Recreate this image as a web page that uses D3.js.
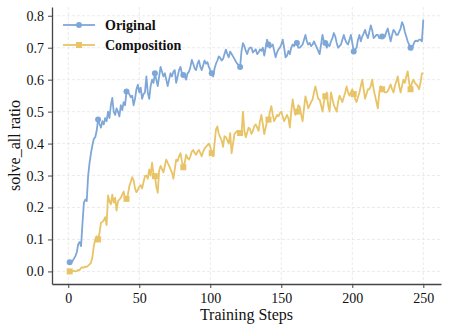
<!DOCTYPE html>
<meta charset="utf-8">
<head>
<style>
  body { margin: 0; background: #fff; }
  svg text { font-family: "Liberation Serif", "Times New Roman", serif; fill: #111; }
</style>
</head>
<body>
<script src="https://d3js.org/d3.v7.min.js"></script>
<div id="chart"></div>
<script>

// training steps 1..250
var steps = d3.range(1, 251);

var original = [
  0.029, 0.028, 0.032, 0.040, 0.048, 0.060, 0.085, 0.092, 0.079, 0.150,
  0.215, 0.225, 0.220, 0.300, 0.340, 0.370, 0.395, 0.415, 0.420, 0.440,
  0.475, 0.462, 0.450, 0.470, 0.460, 0.480, 0.470, 0.500, 0.480, 0.520,
  0.543, 0.500, 0.490, 0.510, 0.500, 0.485, 0.520, 0.505, 0.530, 0.520,
  0.563, 0.560, 0.555, 0.545, 0.550, 0.520, 0.540, 0.570, 0.584, 0.560,
  0.575, 0.540, 0.555, 0.560, 0.610, 0.560, 0.540, 0.580, 0.600, 0.590,
  0.620, 0.600, 0.580, 0.610, 0.640, 0.625, 0.610, 0.620, 0.600, 0.580,
  0.600, 0.620, 0.610, 0.625, 0.630, 0.590, 0.610, 0.630, 0.640, 0.620,
  0.615, 0.610, 0.600, 0.620, 0.625, 0.640, 0.662, 0.650, 0.635, 0.630,
  0.650, 0.660, 0.640, 0.630, 0.645, 0.660, 0.650, 0.655, 0.640, 0.630,
  0.620, 0.610, 0.635, 0.650, 0.660, 0.673, 0.668, 0.660, 0.665, 0.680,
  0.694, 0.680, 0.670, 0.688, 0.680, 0.673, 0.665, 0.657, 0.650, 0.645,
  0.640, 0.690, 0.714, 0.705, 0.690, 0.680, 0.695, 0.700, 0.700, 0.685,
  0.690, 0.695, 0.680, 0.685, 0.695, 0.690, 0.700, 0.675, 0.700, 0.725,
  0.710, 0.700, 0.705, 0.710, 0.690, 0.670, 0.685, 0.695, 0.700, 0.710,
  0.725, 0.700, 0.670, 0.675, 0.690, 0.680, 0.700, 0.710, 0.705, 0.720,
  0.715, 0.700, 0.700, 0.705, 0.710, 0.725, 0.740, 0.720, 0.710, 0.715,
  0.705, 0.710, 0.720, 0.710, 0.700, 0.690, 0.680, 0.710, 0.740, 0.720,
  0.715, 0.700, 0.710, 0.705, 0.720, 0.730, 0.746, 0.735, 0.715, 0.700,
  0.705, 0.710, 0.725, 0.740, 0.725, 0.715, 0.710, 0.725, 0.740, 0.715,
  0.688, 0.695, 0.700, 0.725, 0.740, 0.720, 0.735, 0.745, 0.756, 0.740,
  0.730, 0.750, 0.770, 0.755, 0.730, 0.735, 0.740, 0.740, 0.730, 0.730,
  0.735, 0.740, 0.735, 0.750, 0.760, 0.740, 0.720, 0.740, 0.756, 0.750,
  0.740, 0.740, 0.750, 0.760, 0.780, 0.770, 0.750, 0.735, 0.720, 0.710,
  0.700, 0.694, 0.710, 0.720, 0.722, 0.720, 0.725, 0.725, 0.720, 0.788
];

var composition = [
  0.000, 0.000, 0.000, 0.002, 0.000, 0.001, 0.005, 0.004, 0.011, 0.013,
  0.012, 0.015, 0.014, 0.018, 0.022, 0.027, 0.045, 0.079, 0.100, 0.110,
  0.100, 0.120, 0.152, 0.155, 0.160, 0.170, 0.145, 0.238, 0.220, 0.210,
  0.240, 0.215, 0.230, 0.190, 0.220, 0.225, 0.230, 0.240, 0.250, 0.227,
  0.227, 0.240, 0.267, 0.280, 0.295, 0.285, 0.260, 0.248, 0.255, 0.265,
  0.270, 0.260, 0.280, 0.298, 0.300, 0.290, 0.319, 0.300, 0.340, 0.305,
  0.298, 0.265, 0.246, 0.316, 0.330, 0.320, 0.310, 0.330, 0.350, 0.340,
  0.330, 0.320, 0.310, 0.290, 0.320, 0.350, 0.345, 0.360, 0.370, 0.345,
  0.326, 0.340, 0.365, 0.355, 0.350, 0.360, 0.375, 0.380, 0.370, 0.365,
  0.375, 0.380, 0.370, 0.360, 0.375, 0.385, 0.390, 0.395, 0.400, 0.390,
  0.370, 0.360, 0.400, 0.444, 0.454, 0.430, 0.420, 0.410, 0.390, 0.423,
  0.420, 0.410, 0.400, 0.433, 0.370, 0.400, 0.430, 0.435, 0.440, 0.430,
  0.433, 0.430, 0.500, 0.440, 0.420, 0.435, 0.450, 0.445, 0.430, 0.440,
  0.455, 0.460, 0.450, 0.440, 0.470, 0.490, 0.460, 0.430, 0.450, 0.470,
  0.475, 0.500, 0.517, 0.490, 0.470, 0.480, 0.490, 0.485, 0.495, 0.500,
  0.485, 0.470, 0.480, 0.490, 0.480, 0.450, 0.500, 0.538, 0.510, 0.490,
  0.500, 0.520, 0.515, 0.490, 0.470, 0.510, 0.548, 0.530, 0.510, 0.520,
  0.530, 0.538, 0.560, 0.579, 0.560, 0.540, 0.538, 0.520, 0.500, 0.530,
  0.548, 0.560, 0.520, 0.500, 0.560, 0.540, 0.520, 0.510, 0.500, 0.530,
  0.550, 0.540, 0.530, 0.545, 0.560, 0.579, 0.560, 0.550, 0.560, 0.570,
  0.555, 0.540, 0.530, 0.545, 0.560, 0.580, 0.600, 0.570, 0.540, 0.555,
  0.570, 0.570, 0.580, 0.600, 0.570, 0.550, 0.530, 0.510, 0.560, 0.580,
  0.570, 0.565, 0.560, 0.560, 0.565, 0.575, 0.585, 0.570, 0.560, 0.580,
  0.595, 0.610, 0.580, 0.560, 0.580, 0.600, 0.590, 0.610, 0.626, 0.590,
  0.570, 0.590, 0.600, 0.590, 0.585, 0.580, 0.570, 0.590, 0.620, 0.620
];

var seriesNames = ["Original", "Composition"];
var xTicks = [0, 50, 100, 150, 200, 250];
var yTicks = [0.0, 0.1, 0.2, 0.3, 0.4, 0.5, 0.6, 0.7, 0.8];

var colors = ["#7ea7d8", "#e8c467"];
var W = 449, H = 332;
var mLeft = 52, mRight = 441, mTop = 7, mBottom = 284;

var svg = d3.select("#chart").append("svg")
  .attr("width", W)
  .attr("height", H);

// matplotlib style 5% margins
var x = d3.scaleLinear().domain([1 - 12.45, 250 + 12.45]).range([mLeft, mRight]);
var y = d3.scaleLinear().domain([-0.0394, 0.8274]).range([mBottom, mTop]);

// grid
svg.append("g").selectAll("line.gx")
  .data(xTicks).enter().append("line")
  .attr("x1", function(d) { return x(d); })
  .attr("x2", function(d) { return x(d); })
  .attr("y1", mTop).attr("y2", mBottom)
  .attr("stroke", "#e6e6e6").attr("stroke-width", 0.8)
  .attr("stroke-dasharray", "3,2");
svg.append("g").selectAll("line.gy")
  .data(yTicks).enter().append("line")
  .attr("y1", function(d) { return y(d); })
  .attr("y2", function(d) { return y(d); })
  .attr("x1", mLeft).attr("x2", mRight)
  .attr("stroke", "#e6e6e6").attr("stroke-width", 0.8)
  .attr("stroke-dasharray", "3,2");

// lines
var allSeries = [original, composition];
var line = d3.line()
  .x(function(d, i) { return x(steps[i]); })
  .y(function(d) { return y(d); });

allSeries.forEach(function(vals, k) {
  svg.append("path")
    .datum(vals)
    .attr("d", line)
    .attr("fill", "none")
    .attr("stroke", colors[k])
    .attr("stroke-width", 1.8)
    .attr("stroke-linejoin", "round");

  // markers every 20 points
  var marked = vals.map(function(v, i) { return {s: steps[i], v: v}; })
    .filter(function(d, i) { return i % 20 == 0; });
  if (k == 0) {
    svg.append("g").selectAll("circle")
      .data(marked).enter().append("circle")
      .attr("cx", function(d) { return x(d.s); })
      .attr("cy", function(d) { return y(d.v); })
      .attr("r", 3)
      .attr("fill", colors[k]);
  } else {
    svg.append("g").selectAll("rect")
      .data(marked).enter().append("rect")
      .attr("x", function(d) { return x(d.s) - 3; })
      .attr("y", function(d) { return y(d.v) - 3; })
      .attr("width", 6).attr("height", 6)
      .attr("fill", colors[k]);
  }
});

// axes
var xAxis = svg.append("g")
  .attr("transform", "translate(0," + mBottom + ")")
  .call(d3.axisBottom(x).tickValues(xTicks).tickSize(4).tickPadding(5).tickSizeOuter(0));
var yAxis = svg.append("g")
  .attr("transform", "translate(" + mLeft + ",0)")
  .call(d3.axisLeft(y).tickValues(yTicks).tickFormat(d3.format(".1f")).tickSize(4).tickPadding(4).tickSizeOuter(0));

[xAxis, yAxis].forEach(function(a) {
  a.select(".domain").attr("stroke", "#444").attr("stroke-width", 1.3);
  a.selectAll(".tick line").attr("stroke", "#444").attr("stroke-width", 1);
  a.selectAll(".tick text")
    .attr("fill", "#111")
    .style("font-family", '"Liberation Serif", serif')
    .style("font-size", "14px");
});

// axis labels
svg.append("text")
  .attr("x", (mLeft + mRight) / 2)
  .attr("y", 320)
  .attr("text-anchor", "middle")
  .style("font-size", "16px")
  .text("Training Steps");

svg.append("text")
  .attr("transform", "translate(20," + ((mTop + mBottom) / 2) + ") rotate(-90)")
  .attr("text-anchor", "middle")
  .style("font-size", "16px")
  .text("solve_all ratio");

// legend
var legend = svg.append("g");
seriesNames.forEach(function(name, k) {
  var ly = 25 + k * 20;
  legend.append("line")
    .attr("x1", 63).attr("x2", 95)
    .attr("y1", ly).attr("y2", ly)
    .attr("stroke", colors[k]).attr("stroke-width", 1.8);
  if (k == 0) {
    legend.append("circle").attr("cx", 79).attr("cy", ly).attr("r", 3).attr("fill", colors[k]);
  } else {
    legend.append("rect").attr("x", 76).attr("y", ly - 3).attr("width", 6).attr("height", 6).attr("fill", colors[k]);
  }
  legend.append("text")
    .attr("x", 105)
    .attr("y", ly + 5)
    .style("font-size", "14px")
    .style("font-weight", "bold")
    .text(name);
});

</script>
</body>
